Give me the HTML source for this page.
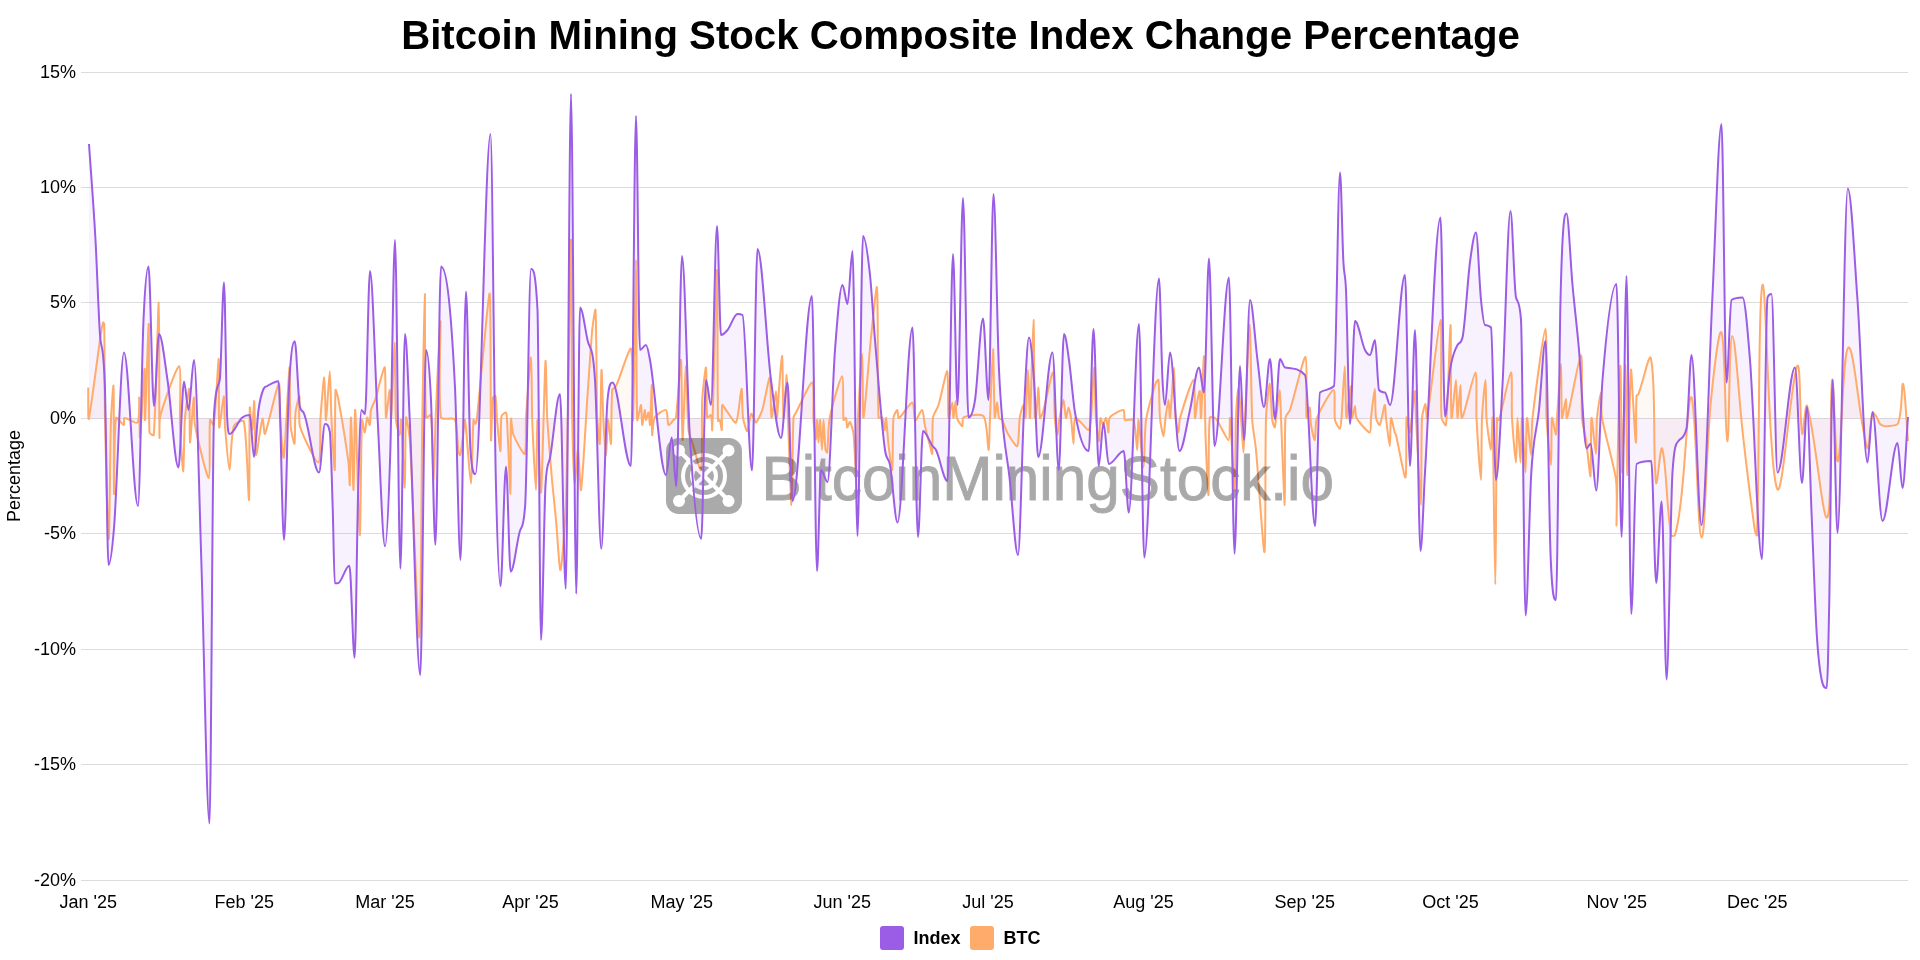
<!DOCTYPE html>
<html><head><meta charset="utf-8"><style>
html,body{margin:0;padding:0;background:#fff;width:1920px;height:960px;overflow:hidden}
svg{display:block;font-family:"Liberation Sans",sans-serif;will-change:transform}
</style></head><body>
<svg width="1920" height="960" viewBox="0 0 1920 960">
<rect width="1920" height="960" fill="#fff"/>
<text x="960.5" y="49.2" text-anchor="middle" font-size="40.2" font-weight="bold" fill="#000">Bitcoin Mining Stock Composite Index Change Percentage</text>
<g font-size="18" fill="#000"><line x1="81" x2="1908" y1="72.5" y2="72.5" stroke="#dcdcdc" stroke-width="1"/><text x="76" y="78.4" text-anchor="end">15%</text><line x1="81" x2="1908" y1="187.5" y2="187.5" stroke="#dcdcdc" stroke-width="1"/><text x="76" y="193.4" text-anchor="end">10%</text><line x1="81" x2="1908" y1="302.5" y2="302.5" stroke="#dcdcdc" stroke-width="1"/><text x="76" y="308.4" text-anchor="end">5%</text><line x1="81" x2="1908" y1="418.5" y2="418.5" stroke="#dcdcdc" stroke-width="1"/><text x="76" y="424.4" text-anchor="end">0%</text><line x1="81" x2="1908" y1="533.5" y2="533.5" stroke="#dcdcdc" stroke-width="1"/><text x="76" y="539.4" text-anchor="end">-5%</text><line x1="81" x2="1908" y1="649.5" y2="649.5" stroke="#dcdcdc" stroke-width="1"/><text x="76" y="655.4" text-anchor="end">-10%</text><line x1="81" x2="1908" y1="764.5" y2="764.5" stroke="#dcdcdc" stroke-width="1"/><text x="76" y="770.4" text-anchor="end">-15%</text><line x1="81" x2="1908" y1="880.5" y2="880.5" stroke="#dcdcdc" stroke-width="1"/><text x="76" y="886.4" text-anchor="end">-20%</text><text x="88.3" y="907.8" text-anchor="middle">Jan '25</text><text x="244.2" y="907.8" text-anchor="middle">Feb '25</text><text x="385" y="907.8" text-anchor="middle">Mar '25</text><text x="530.5" y="907.8" text-anchor="middle">Apr '25</text><text x="681.7" y="907.8" text-anchor="middle">May '25</text><text x="842.3" y="907.8" text-anchor="middle">Jun '25</text><text x="988.1" y="907.8" text-anchor="middle">Jul '25</text><text x="1143.6" y="907.8" text-anchor="middle">Aug '25</text><text x="1304.8" y="907.8" text-anchor="middle">Sep '25</text><text x="1450.5" y="907.8" text-anchor="middle">Oct '25</text><text x="1616.7" y="907.8" text-anchor="middle">Nov '25</text><text x="1757.3" y="907.8" text-anchor="middle">Dec '25</text></g>
<text transform="translate(20.3,476) rotate(-90)" text-anchor="middle" font-size="18" fill="#000">Percentage</text>
<path d="M88.2 387.5C88.4 395.3 87.9 422.1 88.8 418.8C90.9 410.2 97.1 359.7 100 340C100.7 335.6 102 326.2 103 322.5C103.1 322.1 104.2 323.3 104.2 323.8C104.7 347.1 104.5 394.1 105 417.5C105.6 447.9 108 538.7 108.8 539C109.5 539.3 110.1 449.7 111 420C111.3 411.5 113.3 381.6 113.5 386C114.1 400.1 113.6 489.3 114 494C114.3 497.3 113.9 433.2 116 418C116.3 415.9 122.5 425 123.8 425C124.6 425 123.3 418.2 124.5 418C126.8 417.6 136.2 424.3 137.5 422.5C139.9 419.2 139 396.1 139.2 397.5C139.6 399.8 139.5 440.1 140 437.5C140.8 433 143.8 371.3 144.5 368.8C145 366.9 144.6 423.9 145 420C145.7 412.7 148.2 322.3 148.8 323.8C149.3 325.4 148.3 405.9 149.5 432.5C149.6 433.7 153.7 436.2 153.8 435C156 403.7 158 302.2 158.8 302.5C159.5 302.8 159.1 413.4 159.5 437.5C159.6 441.5 159 420.4 160.5 415C163.9 402.6 177 365.1 179.2 366.2C181.8 367.6 179.4 410.3 180 425C180.4 436.6 182.7 472.1 183.2 471.2C183.9 470.2 184 430.9 185 417.5C185.5 410.3 188.8 386.6 189.2 388.8C190.1 392.8 189.4 441.3 190 442.5C190.5 443.5 193 400.2 193.8 397.5C194.2 395.8 193.7 418.3 195 425C197.5 438.4 206.9 478.6 208.8 478C210.7 477.4 208.9 432 210 420C210.1 418.7 213.6 426.3 213.8 425C215.7 411 218.1 358.4 218.8 358.8C219.4 359.1 218.4 421.1 219.2 427.5C219.6 430.5 223 396.4 223.8 396.2C224.5 396.1 224.4 418.8 225 426.2C225.9 437.2 228.4 470 229.5 470C230.6 470 230.9 436 233.8 426.2C234.5 423.8 243.3 419 243.8 421.2C247.1 437.4 248.3 501.6 249 500C249.8 498.1 249.1 421.6 249.8 407.5C249.9 404.1 251.8 430.7 252.2 430C252.9 429.1 253.9 399.1 254.2 401.2C254.9 405.3 254.8 452.4 256 455C256.8 456.8 260.9 422.5 262.5 418.8C263.2 417.2 264.1 435.7 265 433.8C268.1 427 276.5 386 278.8 383.8C280.3 382.2 279.4 410 280 418.8C280.7 428.5 283 461.4 283.8 457.5C285.4 448.6 288.5 372.5 289.5 367.5C290.2 364.3 289.6 410.7 290.5 425C290.8 429.8 294 444.9 294.5 443.8C295.3 441.8 294.7 420.2 295.5 412.5C295.9 408.4 299.1 395 299.5 396.2C300.2 398.5 298 419.2 300 426.2C302.7 435.8 316.1 463.5 318.5 462.5C321.2 461.4 319.7 428.7 320.5 417.5C321.2 407.5 323.6 377.2 324.2 377.5C325 377.8 325.4 420.7 326 420C326.7 419.2 329.1 371.2 329.8 371.2C330.4 371.2 330.9 407.8 331.5 420C332.1 432.5 334.4 472.9 334.8 470C335.4 465.4 334.7 405.5 335.5 390C335.6 388 338 397.4 338.5 400C341.3 415.6 346.4 446.8 348.5 462.5C349.2 468.1 349.6 487.8 349.8 485C350.2 476.6 350.5 416.9 351 417.5C351.5 418.1 353 490.9 353.5 490C354.1 489 354.6 405.6 355.2 410C356.2 416.9 358.9 533.7 359.8 535C360.6 536.2 360.9 443.1 362 420C362.1 417.4 364.2 432.8 364.8 432.5C365.5 432.2 366.4 418.7 367.2 417.5C367.7 416.9 369.4 425.6 369.8 425C370.4 423.8 370.2 413.6 371 410C371.7 406.8 375 400.7 376 397.5C377.2 393.8 378.7 386.2 379.8 382.5C380.9 378.7 384.4 365.4 384.8 367.5C385.9 374.1 385.2 413.9 386 417.5C386.4 419.5 389.1 389.7 389.8 390C390.4 390.3 390.7 423.3 391 420C391.9 411.4 394.1 342.5 394.8 342.5C395.4 342.5 395 400.7 396 420C396.2 423.8 399.1 435 399.8 435C400.4 435 400.8 417.6 401 420C402 430.7 404.1 487.8 404.8 487.5C405.4 487.2 405.1 426.5 406 417.5C406.3 414.6 409.4 434.3 409.8 440C412.8 489.3 417.9 639.7 419.4 637.3C421 634.7 421.5 474.3 422.3 420C422.8 388.5 424.3 294.3 424.8 294C425.2 293.7 424.5 388.6 426 417.5C426.1 418.8 430.9 413.8 431 415C432.7 429.4 432.9 480.6 433.5 480C434.1 479.4 435.2 427.5 436 410C437 387.8 439.9 320.3 440.5 321.2C441.1 322.2 437.9 396 441 417.5C441.4 420.6 453.5 416.9 454.8 419.5C457.8 425.7 457.2 444.4 458.5 452.5C458.6 453.2 460.1 455.5 460.2 455C461.1 452.4 462 443.8 462.5 440C463.2 435 464.5 417.4 465 420C466.6 428.3 469.9 483.8 471 483.8C472.1 483.8 472.4 434.1 473.5 420C473.6 419.1 475.1 424 475.5 423.8C476 423.5 476.8 419.5 477 418C478.8 401 481.8 367 483.5 350C484.9 336 489.2 287.7 489.8 294C491.1 310.2 490.4 420 491 440C491.2 445.8 491.9 407.8 493 397.5C493.1 396.8 495.4 395.7 495.5 396.2C496.4 401.3 496.5 414.1 497 420C497.7 427.8 500 451.7 500.5 451.2C501.1 450.8 500.3 424.5 501.5 416.2C501.7 414.9 505.4 412.1 506 412.5C506.8 413 506.9 418.1 507 420C508 438.4 510 493.9 510.5 493.8C511 493.6 510.4 430.8 511 418.8C511.1 416.1 512 431.2 513.5 435C515.5 440 523.6 455.4 524.8 453.8C526.7 451 525.4 426.5 526 417.5C527 402.5 530.2 357.2 531 357.5C531.8 357.8 531.7 404.4 532.2 420C532.9 437.5 535.3 490 536 490C536.7 490 536.9 419.7 537.5 420C538.1 420.3 540.3 497.7 541 492.5C542.3 483 544.4 374.4 545.5 361.2C546 355.6 546.5 403.5 547.2 417.5C548.1 433.1 550.7 464.4 552 480C552.9 490 555.1 510 556 520C557.2 532.5 559.4 571.9 560.5 570C561.9 567.4 565.5 519 566 502C568.1 436.5 570.1 252.2 571 240C571.6 231.7 571.6 375 572.2 420C572.5 435.6 573.8 477.6 574.8 482.5C575.2 485.1 577.3 449.2 578 450C578.9 451 580.3 493.8 581 490C582.6 481.3 585.7 422.5 587.2 400C588.5 382.5 590.6 347.5 592.2 330C592.7 325 595.3 306.5 595.5 310C596.6 328.4 596.4 390.6 597.2 417.5C597.5 424.1 599.5 446.9 599.8 443.8C600.5 435 601 373.1 601.5 370C601.9 367.8 602.8 409.4 603.5 422.5C603.9 430.6 605.5 455.3 606 455C606.6 454.7 607.3 421.7 608 420C608.5 418.9 610.7 446.1 611 443.8C611.7 438.6 611.1 403.1 612.2 390C612.4 388.7 615.5 387.4 616 386.2C620.1 377.1 629.5 345.7 631 348.8C633.7 354.1 632.6 426.8 633 420C633.9 404.6 635.5 260 636 260C636.5 260 636.1 386.9 637.2 420C637.4 423.2 640.5 404.5 641 405C641.7 405.7 641.7 424.3 642.2 425C642.7 425.5 644.2 410.8 644.8 410C645.1 409.5 645.5 419.6 646 420C646.4 420.3 648.1 412 648.5 412.5C649.1 413.3 649.8 426.6 650 425C650.6 419.8 651.5 383.9 651.8 385C652.1 386.4 651.7 429 652.2 435C652.4 437.1 652.8 421 654.8 417.5C656.2 414.8 664.4 409.1 666 410C667.8 411 667.2 423.3 668.5 425C669.1 425.8 672.2 421.2 673.5 420C674.1 419.4 675.9 418.4 676 417.5C677.8 403.4 680.3 357.6 681 360C681.9 363.3 681.8 439.2 682.5 440C683.1 440.7 685.2 367.6 686 366.2C686.7 365.1 687.2 414.2 688.5 430C688.8 433.2 691.3 439.4 692.2 442.5C694.4 449.4 700.3 473.1 701 470C702.8 462.5 701.4 417.5 702.2 400C702.6 391.8 705.5 365.8 706 367.5C706.8 370.1 706.1 406.6 707.2 417.5C707.4 418.5 710.7 414.3 711 415C712 417.4 712.1 433.1 712.2 430C713.6 396.9 716.3 271.2 717 270C717.7 268.9 717.3 384 718 421C718 421.5 719.6 419.6 719.8 420C720.5 421.9 721.6 431.1 721.8 430C722.2 427.3 721.4 409 722.2 405C722.5 404 725 408.8 726 410C728.5 413.1 734.8 424.2 736 422.5C738.6 418.9 740.5 389.4 741.5 388.8C742.3 388.2 742 410.4 743 417.5C743.5 421 746.4 431.7 747.2 431.2C748.4 430.7 749.8 416.5 751 413.8C751.3 413.1 752.9 416.5 753.5 417.5C754.2 418.7 755.4 423 756 422.5C757.6 421.2 761.2 413.3 762.2 410C764.7 402.1 768.7 376.6 769.8 377.5C771 378.5 770.6 415.4 771.5 417.5C772.1 418.9 775.3 391.2 776 391.2C776.7 391.2 776.6 418.8 777 417.5C777.6 415.6 778.9 388.4 779.8 378.8C780.2 373.1 782 353.6 782.2 356.2C782.9 363.3 782.8 414.7 783.5 417.5C784 419.4 786.2 374.9 786.8 375C787.3 375.1 787.6 407.3 788 418C788.8 439.8 790.8 505.1 791.5 505C792.2 504.9 792.4 439.2 793.5 417.5C793.6 416.1 795.3 413.7 796 412.5C800 405 810.2 381.6 812.2 382.5C814.5 383.5 812.9 410.6 813.5 420C813.8 425 815.6 440 816 440C816.4 440 816.7 419.7 817 420C817.3 420.3 818.1 442.5 818.5 442.5C818.9 442.5 819.6 419.2 820 420C820.5 421.1 821.6 450 822 450C822.4 450 823.1 420 823.5 420C823.9 420 824.6 442.6 825.5 450C825.6 450.7 827.2 453.2 827.2 452.5C828.2 445 828.1 426.1 829.8 417.5C831.8 407 840.5 375.9 842.2 376.2C844 376.6 842.6 410.3 843.5 420C843.6 420.7 845.8 417.5 846 418C846.7 419.4 846.6 426.9 847.2 427.5C847.6 427.9 849.5 421.5 850 422C851 423 853.1 430.7 853.5 433.8C854.6 443.3 855.5 474.2 856 472.5C856.7 470.1 857.3 431.2 858 417.5C858.8 401.6 861.6 353.8 862.2 353.8C862.9 353.8 862.5 419.3 863.5 417.5C864.7 415.2 868.9 357.5 871 337.5C872.3 325 876.5 281.9 877 287.5C878.4 301.9 877.2 385.9 878.5 417.5C878.5 418.4 881.9 416.8 882.2 417.5C883.4 419.9 884 429.9 884.5 430C885 430.1 885.7 416.8 886 418C886.7 420.6 887.7 438.3 888.5 445C889.3 451.3 891.8 472.2 892.2 470C893.1 465.4 892.4 430.4 893.5 417.5C893.7 415.4 896.6 409.9 897.2 410C897.9 410.1 897.9 418.5 899 418C901.7 416.7 910.1 402.2 912.2 402.5C914.1 402.7 913.9 415.9 914.8 420C914.8 420.3 915.8 420.2 916 420C917.7 417.7 921.3 409.5 922.2 410C923.5 410.7 924 421.3 924.8 425C925.8 430 928.4 440 929.8 445C930.3 447.2 932.1 455.1 932.2 453.8C932.9 448.3 931.9 426.4 933 417.5C933.4 414.2 937.5 408.3 938.5 405C941.1 396.7 946.2 369.9 947.2 371.2C948.7 373 947.6 411.6 948.5 417.5C948.8 419.5 951.6 402.4 952.2 402.5C952.9 402.6 953.1 418.1 953.5 418C953.9 417.8 955.1 401.2 955.5 401.2C955.9 401.2 955.9 414 957 418C957.6 420.3 961.4 426.3 962.2 426.2C963 426.2 961.9 418.3 963.5 417.5C967.2 415.8 981.2 413.2 983.5 416.2C987.4 421.4 987.7 449.8 988.5 450C989.3 450.2 989.6 426 990 418C990.8 400.7 992.4 348.8 993 348.8C993.6 348.7 993.9 406.5 994.8 417.5C994.9 419.9 996.7 402.4 997.2 402.5C997.8 402.6 998 414.5 999 418C999.2 418.9 1001.8 419.2 1002.2 420C1003.9 422.8 1005.6 429.6 1007.2 432.5C1009.3 436.2 1016.1 447.6 1017.2 446.2C1019.2 443.9 1018.7 424.6 1019.8 417.5C1020.2 414.3 1022.8 404.9 1023.5 405C1024.2 405.1 1025.3 419.9 1025.5 418C1026.4 411.1 1027.4 370 1028 370C1028.6 370 1029.5 422.1 1030 418C1030.9 409.6 1032.9 320.1 1033.5 320C1034.1 319.9 1034.1 393.4 1034.8 417.5C1034.8 417.8 1036 417.8 1036 417.5C1036.9 410.3 1038 387.4 1038.5 387.5C1039 387.6 1039.1 413 1040 418C1040.2 419.1 1042.5 413.6 1043 412C1045.8 402.2 1051.6 371.8 1053 372.5C1054.5 373.2 1054 406.3 1054.8 417.5C1055 421.9 1056.6 434.9 1057.2 435C1057.8 435.1 1058.7 422.2 1059.5 418C1060.3 413.5 1062.7 400 1063.5 400C1064.3 400 1065.2 416.8 1066 418C1066.5 418.7 1067.9 407.5 1068.5 407.5C1069.1 407.5 1070.6 415.3 1071 418C1071.9 424.4 1073 443.8 1073.5 443.8C1074 443.8 1073.5 422.1 1075 418C1075.4 416.8 1079.6 421.3 1081 422.5C1083 424.3 1087.3 430.5 1088.5 430C1089.8 429.4 1090.7 421 1091 418C1092.1 405.4 1093.4 367.6 1094 367.5C1094.6 367.4 1095.2 405 1096 417.5C1096.4 423.5 1098.4 441.2 1099 441.2C1099.6 441.3 1099.7 421.1 1100.5 418C1100.7 417 1102.3 425 1103 425C1103.7 425 1105.5 417.4 1106 418C1106.9 419.2 1108 432.6 1108.5 432.5C1109 432.4 1107.9 420.3 1109.8 417.5C1111.7 414.6 1121.2 409.6 1123.5 410C1125 410.2 1123.6 418.6 1125 420C1126.1 421.1 1132.8 418.4 1133.5 420C1135.9 425.9 1136.6 450 1137.2 450C1137.9 450 1137.9 418.3 1138.5 420C1139.5 422.7 1142.6 467.5 1143.5 467.5C1144.4 467.5 1144.5 431.7 1146 420C1147 412.4 1151.5 397.5 1153.5 390C1154 388.1 1155.1 384.2 1156 382.5C1156.4 381.7 1158.4 379.2 1158.5 380C1159.4 388.1 1159.2 408.6 1160 418C1160.4 422.6 1162.8 436.2 1163.5 436.2C1164.2 436.2 1164.9 422.5 1165.5 418C1166.1 413.5 1167.9 400 1168.5 400C1169.1 400 1169.6 420.1 1170 418C1171 412 1173.3 367.5 1174 367.5C1174.7 367.5 1174.6 405.4 1175.5 418C1175.8 421.7 1177.9 432.5 1178.5 432.5C1179.1 432.5 1179 421.5 1180 418C1182.8 408.4 1191.6 380 1193.5 380C1195.3 380 1194.3 414.6 1195 418C1195.3 419.6 1196.7 404.5 1197.5 400C1197.9 397.8 1199.5 390.1 1199.8 391.2C1200.4 394.6 1200.7 420.6 1201 418C1201.7 411.9 1203.5 354.4 1204 356.2C1204.6 358.6 1204.9 415.3 1205.5 435C1206 450 1208 496.9 1208.5 495C1209.1 492.5 1208 435.1 1209.8 417.5C1209.9 416.1 1215 417.6 1216 418.8C1219.7 423.2 1226.7 440.1 1228.5 440C1230.2 439.9 1229.6 415.1 1230 418C1231.2 427.6 1234 490 1234.8 490C1235.5 490 1235.3 436 1236 418C1236.3 410.4 1237.9 387.5 1238.5 387.5C1239.1 387.5 1240.4 410.4 1241 418C1241.7 426.6 1243 452.5 1243.5 452.5C1244 452.5 1244.6 426.6 1245 418C1246.1 394.7 1248.9 324.8 1249.8 325C1250.7 325.3 1251.1 396.3 1252.2 420C1252.6 427.5 1255.3 442.5 1256 450C1258.4 475.5 1263.4 555.5 1264.5 552C1265.9 547.4 1265 451.1 1266 417.5C1266.3 409 1269 383.4 1269.8 383.8C1270.6 384.1 1271.2 411 1272.2 420C1272.5 422 1274.3 427.7 1274.8 427.5C1275.3 427.2 1275.7 420.4 1276 418C1276.9 411 1279.1 390 1279.8 390C1280.4 390 1280.7 411 1281 418C1281.9 439.7 1284.2 505.1 1284.8 505C1285.3 504.9 1284.3 439.1 1285.5 417.5C1285.6 415.3 1289.3 412.1 1290 410C1294.3 396.9 1303.5 356.1 1305.5 357C1307.7 358 1305.6 406.7 1306.5 417.5C1306.7 419.4 1309.3 406.8 1309.8 407.5C1310.5 408.7 1310.3 420.7 1311 425C1311.6 428.8 1314.1 440.7 1314.8 440C1315.6 439 1315.1 423.1 1317 418C1319.8 410.6 1331.2 389.7 1333.5 390C1335.7 390.2 1333.8 412.7 1335 420C1335.4 422.4 1339 429 1339.8 428.8C1340.6 428.5 1341.3 420.7 1341.5 418C1342.5 405.1 1344.1 366.2 1344.8 366.2C1345.4 366.2 1345.6 414.9 1346.5 418C1347 419.9 1349.8 386.2 1350.5 386.2C1351.2 386.2 1351.2 414.4 1352 418C1352.3 419.4 1354.4 406 1355 406C1355.6 406 1355.1 415.5 1356.5 418C1358.8 422.1 1367.7 432.5 1369.8 432.5C1371.3 432.5 1370.6 421.6 1371 418C1371.8 410.7 1374.1 388.8 1374.8 388.8C1375.4 388.8 1375 410.9 1376 418C1376.3 419.9 1379.1 425.9 1379.8 425C1381.3 422.7 1383.8 406.1 1384.8 405C1385.4 404.3 1385.6 414.8 1386 418C1386.9 425.1 1389.1 446.2 1389.8 446.2C1390.4 446.2 1390.2 420.2 1391 418C1391.4 416.8 1393.7 428.9 1394.8 432.5C1394.9 433.2 1395.8 434.3 1396 435C1398.5 445.6 1404.4 479.3 1405.5 477.5C1407 475 1405.7 426.5 1406.5 417.5C1406.7 415.2 1409.2 434.3 1409.8 432.5C1411.3 427.7 1413.8 393.5 1414.8 391.2C1415.4 389.8 1415.6 411.3 1416 418C1417.2 439.8 1420.2 505 1421 505C1421.7 505 1421 439.7 1422 418C1422.2 414.3 1424.9 403.8 1425.5 403.8C1426.1 403.8 1426.5 420.6 1427 418C1430.3 399.7 1438.7 320.1 1440.5 320C1442.3 319.9 1440.2 393.4 1441.5 417.5C1441.6 419.7 1445.8 426.9 1446 425C1448.1 403.7 1449.8 325.9 1450.5 325C1451.2 324.2 1450.5 408.3 1451.5 418C1451.9 422 1455.2 380 1456 380C1456.7 380 1456.9 417.3 1457.5 418C1458 418.6 1459.9 385 1460.5 385C1461.1 385 1460.5 419.3 1462 418C1464.2 416.2 1473.6 372.5 1475.5 372.5C1477.3 372.5 1475.9 406.6 1476.5 418C1477.3 433.5 1480.3 480 1481 480C1481.7 480 1481.3 433.5 1482 418C1482.4 408.5 1484.9 380 1485.5 380C1486.1 380 1485.8 408.5 1486.5 418C1487.1 426 1490.2 450 1491 450C1491.7 450 1492.3 412.6 1492.5 418C1493.4 446.2 1494.7 584.4 1495.3 584.4C1495.9 584.4 1496.1 458.4 1497 418C1497 417.3 1498.8 420.6 1499 420C1502.3 409.2 1509.3 372.8 1511 372.5C1512.6 372.3 1511.4 406.6 1512 418C1512.6 429.1 1515.3 462.5 1516 462.5C1516.7 462.5 1516.9 418 1517.5 418C1518.1 418 1519.9 462.5 1520.5 462.5C1521.1 462.5 1521.4 416.9 1522 418C1522.7 419.4 1524.9 472.5 1525.5 472.5C1526.1 472.5 1526.2 420.6 1527 418C1527.6 416.2 1530.3 455 1531 455C1531.7 455 1531.4 427.2 1532.5 418C1535.1 395.6 1543.7 328.8 1545.5 328.8C1547.2 328.8 1545.6 395.7 1546.5 418C1547 429.8 1550.3 465 1551 465C1551.7 465 1551.1 423.5 1552 418C1552.3 416 1555.4 435 1556 435C1556.6 435 1556.7 422.2 1557 418C1558 404.4 1560.4 363.8 1561 363.8C1561.6 363.8 1561.1 411.6 1562 418C1562.3 420.3 1565.4 398.8 1566 398.8C1566.6 398.8 1566.1 420.5 1567 418C1569.9 409.6 1579.1 355 1581 355C1582.9 355 1581.1 402.3 1582 418C1582.3 423.6 1585.2 434.5 1586 440C1587.3 449 1590 478.4 1590.5 476.2C1591.3 472.9 1590.7 421.5 1591.5 418C1592 415.9 1595.3 453.8 1596 453.8C1596.7 453.8 1596.3 426.9 1597 418C1597.5 411.6 1600.4 392.5 1601 392.5C1601.6 392.5 1600.9 411.7 1602 418C1604.7 433.6 1613.9 464.3 1616 480C1617.5 491.1 1616.3 529.6 1616.5 525C1616.9 514.1 1617.8 444.7 1618.5 418C1618.8 405.1 1620.2 361.8 1620.5 366.2C1621.1 375.4 1621.6 472.7 1622.2 472.5C1622.9 472.3 1624.9 364.7 1625.5 365C1626.1 365.3 1626.5 474.4 1627.2 475C1627.9 475.6 1629.9 384.6 1631 370C1631.3 365.8 1632.5 392.5 1633 400C1633.7 410.6 1635.3 443.2 1636 442.5C1636.7 441.7 1635.6 414.5 1636.5 396.2C1636.6 395 1638 394.9 1638.5 393.8C1643.8 379.9 1649.4 350.6 1651 358.8C1656.4 386.1 1652.5 454.3 1656 482.5C1657 490.3 1660.5 442.8 1662.2 448.8C1666.5 463.8 1666.1 502 1671 535C1671.2 536.5 1674.6 536.4 1675 535C1678.6 522.4 1679.3 514.1 1681 500C1685.9 459.1 1688 391.2 1691.5 397.5C1696.2 406.2 1697.6 537 1701.5 537.5C1705.4 538 1705.7 454.8 1711 400C1713.7 372.8 1719 326.1 1721.5 332.5C1725.5 342.6 1725.1 440.5 1727.2 441.2C1729.4 442 1729 336.5 1732.2 336.2C1735.5 336 1738.7 398.5 1743.5 440C1747.7 476 1749.7 494.2 1754.8 530C1755.1 532.2 1756.9 537.1 1757 535C1760 439.1 1758 295.2 1762.5 285C1766.1 276.7 1768.6 468.5 1777.2 488.8C1782.5 501 1790.8 380.5 1797.2 366.2C1800.8 358.5 1799.4 422.4 1802.2 433.8C1803.4 438.4 1805.3 399.6 1807.2 406.2C1815.3 433.1 1822.7 522.2 1827.2 517.5C1832.7 511.7 1829.5 394.1 1832.2 380C1833.8 371.6 1835.3 466.7 1838 461.2C1841.8 453.7 1842.3 350.4 1848.5 347.5C1854 344.9 1860.1 428 1867.2 447.5C1869.7 454.2 1869.4 424.1 1872.5 413C1872.9 411.5 1875 414.5 1876 416C1878 418.9 1877.9 421.3 1880 424C1881.1 425.3 1882.3 425.6 1884 426C1885.9 426.4 1887.1 426.4 1889 426C1892.8 425.2 1897.2 426.3 1898.3 423C1902.8 409.5 1901.4 381.1 1903 384C1905.3 388.3 1906 418.2 1908 441L1908.0 418.5L88.2 418.5Z" fill="#ffab6b" fill-opacity="0.07" stroke="none"/>
<path d="M89 144C91.17 176 93.33 201.13 95.5 240C97 266.91 98.5 314.17 100 335C101 348.89 102 342.92 103 355C103.67 363.06 104.33 367.5 105 390C106.17 429.38 107.33 565 108.5 565C110.33 565 112.17 550.25 114 528C117.33 487.54 120.67 352.5 124 352.5C128.67 352.5 133.33 506 138 506C139.83 506 141.67 360.81 143.5 320C145.17 282.9 146.83 266.5 148.5 266.5C150.33 266.5 152.17 406 154 406C155.67 406 157.33 334 159 334C161.83 334 164.67 361.06 167.5 380C171.17 404.5 174.83 467.5 178.5 467.5C180.33 467.5 182.17 381.5 184 381.5C185.5 381.5 187 410 188.5 410C190.33 410 192.17 360 194 360C196.43 360 198.87 487.57 201.3 560C204.03 641.36 206.77 823.5 209.5 823.5C211 823.5 212.5 441.24 214 415C215.92 381.47 217.83 390.05 219.75 380C221.17 372.57 222.58 282.5 224 282.5C225.08 282.5 226.17 401.8 227.25 420C228.08 434 228.92 434 229.75 434C233.92 434 238.08 420.94 242.25 417.5C244.75 415.43 247.25 415 249.75 415C251.17 415 252.58 457 254 457C255.5 457 257 420.98 258.5 410C260.17 397.8 261.83 392.89 263.5 389C264.75 386.09 266 386.71 267.25 386C271 383.86 274.75 381.25 278.5 381.25C280.33 381.25 282.17 540 284 540C285.67 540 287.33 419.62 289 387.5C290.92 350.56 292.83 341.25 294.75 341.25C296.42 341.25 298.08 398.45 299.75 406.25C301 412.1 302.25 410.29 303.5 412.5C308.67 421.63 313.83 472.5 319 472.5C321 472.5 323 424 325 424C326.6 424 328.2 424 329.8 431.7C330.77 436.35 331.73 477.42 332.7 507.5C333.4 529.28 334.1 583.3 334.8 583.3C335.77 583.3 336.73 583.3 337.7 583.3C341.6 583.3 345.5 565.8 349.4 565.8C351.13 565.8 352.87 657.7 354.6 657.7C355.77 657.7 356.93 534.59 358.1 492.9C359.23 452.4 360.37 410 361.5 410C362.67 410 363.83 414 365 414C366.67 414 368.33 271 370 271C372.57 271 375.13 372.96 377.7 420C380.13 464.59 382.57 546.3 385 546.3C386.73 546.3 388.47 509.04 390.2 455C391.8 405.12 393.4 240 395 240C396.8 240 398.6 568.75 400.4 568.75C401.93 568.75 403.47 334 405 334C406.58 334 408.17 386.43 409.75 420C413.25 494.22 416.75 675.2 420.25 675.2C422.17 675.2 424.08 350 426 350C427.67 350 429.33 364.24 431 400C432.47 431.47 433.93 544.8 435.4 544.8C437.27 544.8 439.13 266.5 441 266.5C445.67 266.5 450.33 294.15 455 387.5C456.83 424.17 458.67 560 460.5 560C462.33 560 464.17 291.5 466 291.5C467.47 291.5 468.93 427 470.4 449C472.07 474 473.73 474 475.4 474C480.43 474 485.47 134 490.5 134C492.27 134 494.03 400.63 495.8 478.3C497.37 547.18 498.93 586.25 500.5 586.25C502.33 586.25 504.17 466.7 506 466.7C507.57 466.7 509.13 571.7 510.7 571.7C513.8 571.7 516.9 540.28 520 530.8C521.73 525.5 523.47 530.26 525.2 504.6C527.13 475.98 529.07 269 531 269C533.17 269 535.33 269 537.5 310C538.67 332.08 539.83 640 541 640C542.5 640 544 510.81 545.5 485C547 459.19 548.5 465.91 550 458C553.33 440.41 556.67 394 560 394C561.92 394 563.83 588.75 565.75 588.75C567.5 588.75 569.25 94 571 94C572.75 94 574.5 593.75 576.25 593.75C577.5 593.75 578.75 307.5 580 307.5C582.5 307.5 585 328.54 587.5 340C590 351.46 592.5 341.68 595 380C597.08 411.94 599.17 548.75 601.25 548.75C603.33 548.75 605.42 421.88 607.5 400C609.17 382.5 610.83 382.5 612.5 382.5C618.67 382.5 624.83 466 631 466C632.67 466 634.33 116 636 116C637.33 116 638.67 350 640 350C642 350 644 345 646 345C647.33 345 648.67 352.71 650 360C655.33 389.17 660.67 475 666 475C667.92 475 669.83 437.5 671.75 437.5C673.25 437.5 674.75 486.25 676.25 486.25C678.17 486.25 680.08 256 682 256C684.67 256 687.33 397.63 690 440C693.75 499.58 697.5 538.75 701.25 538.75C702.83 538.75 704.42 380 706 380C707.67 380 709.33 405 711 405C713 405 715 226 717 226C718.33 226 719.67 335 721 335C723.17 335 725.33 332.57 727.5 330C730.83 326.05 734.17 314 737.5 314C739.17 314 740.83 314 742.5 315C745.67 316.9 748.83 470.5 752 470.5C753.83 470.5 755.67 249 757.5 249C762 249 766.5 345.12 771 380C774.33 405.84 777.67 438 781 438C783.17 438 785.33 382.5 787.5 382.5C789.17 382.5 790.83 501 792.5 501C799 501 805.5 296 812 296C813.67 296 815.33 571 817 571C818.33 571 819.67 470 821 470C823.17 470 825.33 482 827.5 482C830 482 832.5 382.83 835 350C837.5 317.17 840 285 842.5 285C844.17 285 845.83 304 847.5 304C849.17 304 850.83 251 852.5 251C854.17 251 855.83 536 857.5 536C859.33 536 861.17 236 863 236C865.33 236 867.67 253.33 870 275C871.67 290.48 873.33 320 875 340C878.33 380 881.67 426.67 885 450C886.67 461.67 888.33 456.11 890 465C892.5 478.33 895 522.5 897.5 522.5C902.5 522.5 907.5 327.5 912.5 327.5C914.33 327.5 916.17 537 918 537C919.67 537 921.33 431 923 431C926.17 431 929.33 441.69 932.5 446C933.67 447.59 934.83 447.76 936 450C939.83 457.36 943.67 481 947.5 481C949.33 481 951.17 254 953 254C954.5 254 956 405 957.5 405C959.33 405 961.17 198 963 198C964.83 198 966.67 417.5 968.5 417.5C970.67 417.5 972.83 413.95 975 400C977.67 382.83 980.33 318.5 983 318.5C984.83 318.5 986.67 400 988.5 400C990.17 400 991.83 194 993.5 194C995.33 194 997.17 331.33 999 370C1002.67 447.33 1006.33 446.6 1010 482C1012.67 507.74 1015.33 555 1018 555C1020 555 1022 448.67 1024 410C1025.67 377.78 1027.33 337.5 1029 337.5C1030.67 337.5 1032.33 357.82 1034 380C1035.42 398.85 1036.83 457 1038.25 457C1043 457 1047.75 352.5 1052.5 352.5C1054.58 352.5 1056.67 470 1058.75 470C1060.5 470 1062.25 334 1064 334C1065.67 334 1067.33 348.38 1069 360C1071 373.95 1073 400.95 1075 412.5C1079.58 438.97 1084.17 451 1088.75 451C1090.33 451 1091.92 329 1093.5 329C1095.25 329 1097 466 1098.75 466C1100.33 466 1101.92 423 1103.5 423C1105.25 423 1107 464 1108.75 464C1113.75 464 1118.75 451 1123.75 451C1125.42 451 1127.08 512.5 1128.75 512.5C1132.17 512.5 1135.58 324 1139 324C1140.75 324 1142.5 557.5 1144.25 557.5C1149.17 557.5 1154.08 278.5 1159 278.5C1160.17 278.5 1161.33 357.25 1162.5 380C1163.33 396.25 1164.17 405 1165 405C1166.67 405 1168.33 352.5 1170 352.5C1173.17 352.5 1176.33 451 1179.5 451C1183 451 1186.5 425.1 1190 410C1193 397.06 1196 367.5 1199 367.5C1200.67 367.5 1202.33 392.5 1204 392.5C1205.67 392.5 1207.33 258.5 1209 258.5C1210.83 258.5 1212.67 446 1214.5 446C1219.33 446 1224.17 277.5 1229 277.5C1230.83 277.5 1232.67 553.75 1234.5 553.75C1236.33 553.75 1238.17 366 1240 366C1241.33 366 1242.67 440 1244 440C1246 440 1248 300 1250 300C1252.5 300 1255 340.96 1257.5 360C1259.67 376.5 1261.83 407 1264 407C1266 407 1268 359 1270 359C1271.67 359 1273.33 419 1275 419C1276.67 419 1278.33 359 1280 359C1281.67 359 1283.33 367.25 1285 367.5C1291.67 368.5 1298.33 367.57 1305 375C1308.33 378.72 1311.67 526 1315 526C1316.67 526 1318.33 393.9 1320 392.5C1324.67 388.59 1329.33 391.19 1334 386C1336 383.78 1338 172.5 1340 172.5C1341.13 172.5 1342.27 240.98 1343.4 262C1344.27 278.07 1345.13 270.82 1346 290C1347.33 319.51 1348.67 424 1350 424C1351.67 424 1353.33 321 1355 321C1358.33 321 1361.67 343.5 1365 350C1366.67 353.25 1368.33 355 1370 355C1371.67 355 1373.33 340 1375 340C1376.33 340 1377.67 388.37 1379 390C1381 392.44 1383 391.95 1385 392.5C1386.67 392.96 1388.33 405 1390 405C1395 405 1400 275 1405 275C1406.67 275 1408.33 466 1410 466C1411.67 466 1413.33 330 1415 330C1416.83 330 1418.67 551 1420.5 551C1422 551 1423.5 497.92 1425 472.5C1430.17 384.94 1435.33 217.5 1440.5 217.5C1442 217.5 1443.5 416.5 1445 416.5C1446.67 416.5 1448.33 380.53 1450 370C1452.5 354.21 1455 349.34 1457.5 345C1459.17 342.11 1460.83 344.42 1462.5 337.5C1465 327.12 1467.5 280.73 1470 262C1472 247.02 1474 232.5 1476 232.5C1477.67 232.5 1479.33 283.54 1481 300C1482.33 313.17 1483.67 324.65 1485 325C1487 325.53 1489 325.06 1491 327.5C1492.67 329.54 1494.33 480 1496 480C1498.17 480 1500.33 424.4 1502.5 385C1505.17 336.51 1507.83 211 1510.5 211C1512.33 211 1514.17 290.52 1516 297.5C1517.67 303.85 1519.33 298.41 1521 320C1522.53 339.86 1524.07 615.6 1525.6 615.6C1527.48 615.6 1529.37 504.8 1531.25 473.4C1533.83 430.32 1536.42 434.28 1539 410C1541.17 389.64 1543.33 341 1545.5 341C1547.2 341 1548.9 514.44 1550.6 556C1552.4 600 1554.2 600 1556 600C1557.5 600 1559 360.81 1560.5 300C1562.5 218.92 1564.5 213.5 1566.5 213.5C1568.5 213.5 1570.5 263.08 1572.5 285C1574.67 308.74 1576.83 325.14 1579 350C1581.53 379.07 1584.07 448.4 1586.6 448.4C1587.93 448.4 1589.27 443.75 1590.6 443.75C1592.48 443.75 1594.37 490.6 1596.25 490.6C1598.33 490.6 1600.42 405.58 1602.5 380C1607.17 322.71 1611.83 284 1616.5 284C1618.2 284 1619.9 537 1621.6 537C1623.23 537 1624.87 276 1626.5 276C1628.08 276 1629.67 614 1631.25 614C1633.03 614 1634.82 465.1 1636.6 464C1641.48 461 1646.37 461 1651.25 461C1652.92 461 1654.58 583 1656.25 583C1658.03 583 1659.82 501.6 1661.6 501.6C1663.27 501.6 1664.93 679.5 1666.6 679.5C1668.57 679.5 1670.53 501.25 1672.5 472C1674.58 441.02 1676.67 443.46 1678.75 440.6C1681.37 437.01 1683.98 440.08 1686.6 428C1688.23 420.46 1689.87 355 1691.5 355C1694.83 355 1698.17 525 1701.5 525C1705.17 525 1708.83 368.17 1712.5 295C1715.5 235.14 1718.5 124 1721.5 124C1723.17 124 1724.83 382.5 1726.5 382.5C1728.17 382.5 1729.83 301.14 1731.5 300C1735.17 297.5 1738.83 297.5 1742.5 297.5C1745 297.5 1747.5 328.85 1750 360C1754 409.83 1758 559 1762 559C1763.83 559 1765.67 302.31 1767.5 297.5C1768.83 294 1770.17 294 1771.5 294C1773.5 294 1775.5 472.5 1777.5 472.5C1783.33 472.5 1789.17 367.5 1795 367.5C1797.33 367.5 1799.67 483 1802 483C1803.67 483 1805.33 407 1807 407C1808.57 407 1810.13 480.15 1811.7 516.7C1813.37 555.58 1815.03 606.08 1816.7 633.3C1818.37 660.52 1820.03 672 1821.7 680C1823.37 688 1825.03 688 1826.7 688C1827.57 688 1828.43 644.46 1829.3 600C1830.37 545.28 1831.43 380 1832.5 380C1834.17 380 1835.83 533 1837.5 533C1840.93 533 1844.37 188.5 1847.8 188.5C1851.03 188.5 1854.27 255.15 1857.5 300C1860.83 346.24 1864.17 462.5 1867.5 462.5C1869.17 462.5 1870.83 412 1872.5 412C1875.83 412 1879.17 521 1882.5 521C1887.5 521 1892.5 443 1897.5 443C1899.17 443 1900.83 488 1902.5 488C1904.33 488 1906.17 440.67 1908 417L1908.0 418.5L89.0 418.5Z" fill="#9b5de5" fill-opacity="0.08" stroke="none"/>
<path d="M88.2 387.5C88.4 395.3 87.9 422.1 88.8 418.8C90.9 410.2 97.1 359.7 100 340C100.7 335.6 102 326.2 103 322.5C103.1 322.1 104.2 323.3 104.2 323.8C104.7 347.1 104.5 394.1 105 417.5C105.6 447.9 108 538.7 108.8 539C109.5 539.3 110.1 449.7 111 420C111.3 411.5 113.3 381.6 113.5 386C114.1 400.1 113.6 489.3 114 494C114.3 497.3 113.9 433.2 116 418C116.3 415.9 122.5 425 123.8 425C124.6 425 123.3 418.2 124.5 418C126.8 417.6 136.2 424.3 137.5 422.5C139.9 419.2 139 396.1 139.2 397.5C139.6 399.8 139.5 440.1 140 437.5C140.8 433 143.8 371.3 144.5 368.8C145 366.9 144.6 423.9 145 420C145.7 412.7 148.2 322.3 148.8 323.8C149.3 325.4 148.3 405.9 149.5 432.5C149.6 433.7 153.7 436.2 153.8 435C156 403.7 158 302.2 158.8 302.5C159.5 302.8 159.1 413.4 159.5 437.5C159.6 441.5 159 420.4 160.5 415C163.9 402.6 177 365.1 179.2 366.2C181.8 367.6 179.4 410.3 180 425C180.4 436.6 182.7 472.1 183.2 471.2C183.9 470.2 184 430.9 185 417.5C185.5 410.3 188.8 386.6 189.2 388.8C190.1 392.8 189.4 441.3 190 442.5C190.5 443.5 193 400.2 193.8 397.5C194.2 395.8 193.7 418.3 195 425C197.5 438.4 206.9 478.6 208.8 478C210.7 477.4 208.9 432 210 420C210.1 418.7 213.6 426.3 213.8 425C215.7 411 218.1 358.4 218.8 358.8C219.4 359.1 218.4 421.1 219.2 427.5C219.6 430.5 223 396.4 223.8 396.2C224.5 396.1 224.4 418.8 225 426.2C225.9 437.2 228.4 470 229.5 470C230.6 470 230.9 436 233.8 426.2C234.5 423.8 243.3 419 243.8 421.2C247.1 437.4 248.3 501.6 249 500C249.8 498.1 249.1 421.6 249.8 407.5C249.9 404.1 251.8 430.7 252.2 430C252.9 429.1 253.9 399.1 254.2 401.2C254.9 405.3 254.8 452.4 256 455C256.8 456.8 260.9 422.5 262.5 418.8C263.2 417.2 264.1 435.7 265 433.8C268.1 427 276.5 386 278.8 383.8C280.3 382.2 279.4 410 280 418.8C280.7 428.5 283 461.4 283.8 457.5C285.4 448.6 288.5 372.5 289.5 367.5C290.2 364.3 289.6 410.7 290.5 425C290.8 429.8 294 444.9 294.5 443.8C295.3 441.8 294.7 420.2 295.5 412.5C295.9 408.4 299.1 395 299.5 396.2C300.2 398.5 298 419.2 300 426.2C302.7 435.8 316.1 463.5 318.5 462.5C321.2 461.4 319.7 428.7 320.5 417.5C321.2 407.5 323.6 377.2 324.2 377.5C325 377.8 325.4 420.7 326 420C326.7 419.2 329.1 371.2 329.8 371.2C330.4 371.2 330.9 407.8 331.5 420C332.1 432.5 334.4 472.9 334.8 470C335.4 465.4 334.7 405.5 335.5 390C335.6 388 338 397.4 338.5 400C341.3 415.6 346.4 446.8 348.5 462.5C349.2 468.1 349.6 487.8 349.8 485C350.2 476.6 350.5 416.9 351 417.5C351.5 418.1 353 490.9 353.5 490C354.1 489 354.6 405.6 355.2 410C356.2 416.9 358.9 533.7 359.8 535C360.6 536.2 360.9 443.1 362 420C362.1 417.4 364.2 432.8 364.8 432.5C365.5 432.2 366.4 418.7 367.2 417.5C367.7 416.9 369.4 425.6 369.8 425C370.4 423.8 370.2 413.6 371 410C371.7 406.8 375 400.7 376 397.5C377.2 393.8 378.7 386.2 379.8 382.5C380.9 378.7 384.4 365.4 384.8 367.5C385.9 374.1 385.2 413.9 386 417.5C386.4 419.5 389.1 389.7 389.8 390C390.4 390.3 390.7 423.3 391 420C391.9 411.4 394.1 342.5 394.8 342.5C395.4 342.5 395 400.7 396 420C396.2 423.8 399.1 435 399.8 435C400.4 435 400.8 417.6 401 420C402 430.7 404.1 487.8 404.8 487.5C405.4 487.2 405.1 426.5 406 417.5C406.3 414.6 409.4 434.3 409.8 440C412.8 489.3 417.9 639.7 419.4 637.3C421 634.7 421.5 474.3 422.3 420C422.8 388.5 424.3 294.3 424.8 294C425.2 293.7 424.5 388.6 426 417.5C426.1 418.8 430.9 413.8 431 415C432.7 429.4 432.9 480.6 433.5 480C434.1 479.4 435.2 427.5 436 410C437 387.8 439.9 320.3 440.5 321.2C441.1 322.2 437.9 396 441 417.5C441.4 420.6 453.5 416.9 454.8 419.5C457.8 425.7 457.2 444.4 458.5 452.5C458.6 453.2 460.1 455.5 460.2 455C461.1 452.4 462 443.8 462.5 440C463.2 435 464.5 417.4 465 420C466.6 428.3 469.9 483.8 471 483.8C472.1 483.8 472.4 434.1 473.5 420C473.6 419.1 475.1 424 475.5 423.8C476 423.5 476.8 419.5 477 418C478.8 401 481.8 367 483.5 350C484.9 336 489.2 287.7 489.8 294C491.1 310.2 490.4 420 491 440C491.2 445.8 491.9 407.8 493 397.5C493.1 396.8 495.4 395.7 495.5 396.2C496.4 401.3 496.5 414.1 497 420C497.7 427.8 500 451.7 500.5 451.2C501.1 450.8 500.3 424.5 501.5 416.2C501.7 414.9 505.4 412.1 506 412.5C506.8 413 506.9 418.1 507 420C508 438.4 510 493.9 510.5 493.8C511 493.6 510.4 430.8 511 418.8C511.1 416.1 512 431.2 513.5 435C515.5 440 523.6 455.4 524.8 453.8C526.7 451 525.4 426.5 526 417.5C527 402.5 530.2 357.2 531 357.5C531.8 357.8 531.7 404.4 532.2 420C532.9 437.5 535.3 490 536 490C536.7 490 536.9 419.7 537.5 420C538.1 420.3 540.3 497.7 541 492.5C542.3 483 544.4 374.4 545.5 361.2C546 355.6 546.5 403.5 547.2 417.5C548.1 433.1 550.7 464.4 552 480C552.9 490 555.1 510 556 520C557.2 532.5 559.4 571.9 560.5 570C561.9 567.4 565.5 519 566 502C568.1 436.5 570.1 252.2 571 240C571.6 231.7 571.6 375 572.2 420C572.5 435.6 573.8 477.6 574.8 482.5C575.2 485.1 577.3 449.2 578 450C578.9 451 580.3 493.8 581 490C582.6 481.3 585.7 422.5 587.2 400C588.5 382.5 590.6 347.5 592.2 330C592.7 325 595.3 306.5 595.5 310C596.6 328.4 596.4 390.6 597.2 417.5C597.5 424.1 599.5 446.9 599.8 443.8C600.5 435 601 373.1 601.5 370C601.9 367.8 602.8 409.4 603.5 422.5C603.9 430.6 605.5 455.3 606 455C606.6 454.7 607.3 421.7 608 420C608.5 418.9 610.7 446.1 611 443.8C611.7 438.6 611.1 403.1 612.2 390C612.4 388.7 615.5 387.4 616 386.2C620.1 377.1 629.5 345.7 631 348.8C633.7 354.1 632.6 426.8 633 420C633.9 404.6 635.5 260 636 260C636.5 260 636.1 386.9 637.2 420C637.4 423.2 640.5 404.5 641 405C641.7 405.7 641.7 424.3 642.2 425C642.7 425.5 644.2 410.8 644.8 410C645.1 409.5 645.5 419.6 646 420C646.4 420.3 648.1 412 648.5 412.5C649.1 413.3 649.8 426.6 650 425C650.6 419.8 651.5 383.9 651.8 385C652.1 386.4 651.7 429 652.2 435C652.4 437.1 652.8 421 654.8 417.5C656.2 414.8 664.4 409.1 666 410C667.8 411 667.2 423.3 668.5 425C669.1 425.8 672.2 421.2 673.5 420C674.1 419.4 675.9 418.4 676 417.5C677.8 403.4 680.3 357.6 681 360C681.9 363.3 681.8 439.2 682.5 440C683.1 440.7 685.2 367.6 686 366.2C686.7 365.1 687.2 414.2 688.5 430C688.8 433.2 691.3 439.4 692.2 442.5C694.4 449.4 700.3 473.1 701 470C702.8 462.5 701.4 417.5 702.2 400C702.6 391.8 705.5 365.8 706 367.5C706.8 370.1 706.1 406.6 707.2 417.5C707.4 418.5 710.7 414.3 711 415C712 417.4 712.1 433.1 712.2 430C713.6 396.9 716.3 271.2 717 270C717.7 268.9 717.3 384 718 421C718 421.5 719.6 419.6 719.8 420C720.5 421.9 721.6 431.1 721.8 430C722.2 427.3 721.4 409 722.2 405C722.5 404 725 408.8 726 410C728.5 413.1 734.8 424.2 736 422.5C738.6 418.9 740.5 389.4 741.5 388.8C742.3 388.2 742 410.4 743 417.5C743.5 421 746.4 431.7 747.2 431.2C748.4 430.7 749.8 416.5 751 413.8C751.3 413.1 752.9 416.5 753.5 417.5C754.2 418.7 755.4 423 756 422.5C757.6 421.2 761.2 413.3 762.2 410C764.7 402.1 768.7 376.6 769.8 377.5C771 378.5 770.6 415.4 771.5 417.5C772.1 418.9 775.3 391.2 776 391.2C776.7 391.2 776.6 418.8 777 417.5C777.6 415.6 778.9 388.4 779.8 378.8C780.2 373.1 782 353.6 782.2 356.2C782.9 363.3 782.8 414.7 783.5 417.5C784 419.4 786.2 374.9 786.8 375C787.3 375.1 787.6 407.3 788 418C788.8 439.8 790.8 505.1 791.5 505C792.2 504.9 792.4 439.2 793.5 417.5C793.6 416.1 795.3 413.7 796 412.5C800 405 810.2 381.6 812.2 382.5C814.5 383.5 812.9 410.6 813.5 420C813.8 425 815.6 440 816 440C816.4 440 816.7 419.7 817 420C817.3 420.3 818.1 442.5 818.5 442.5C818.9 442.5 819.6 419.2 820 420C820.5 421.1 821.6 450 822 450C822.4 450 823.1 420 823.5 420C823.9 420 824.6 442.6 825.5 450C825.6 450.7 827.2 453.2 827.2 452.5C828.2 445 828.1 426.1 829.8 417.5C831.8 407 840.5 375.9 842.2 376.2C844 376.6 842.6 410.3 843.5 420C843.6 420.7 845.8 417.5 846 418C846.7 419.4 846.6 426.9 847.2 427.5C847.6 427.9 849.5 421.5 850 422C851 423 853.1 430.7 853.5 433.8C854.6 443.3 855.5 474.2 856 472.5C856.7 470.1 857.3 431.2 858 417.5C858.8 401.6 861.6 353.8 862.2 353.8C862.9 353.8 862.5 419.3 863.5 417.5C864.7 415.2 868.9 357.5 871 337.5C872.3 325 876.5 281.9 877 287.5C878.4 301.9 877.2 385.9 878.5 417.5C878.5 418.4 881.9 416.8 882.2 417.5C883.4 419.9 884 429.9 884.5 430C885 430.1 885.7 416.8 886 418C886.7 420.6 887.7 438.3 888.5 445C889.3 451.3 891.8 472.2 892.2 470C893.1 465.4 892.4 430.4 893.5 417.5C893.7 415.4 896.6 409.9 897.2 410C897.9 410.1 897.9 418.5 899 418C901.7 416.7 910.1 402.2 912.2 402.5C914.1 402.7 913.9 415.9 914.8 420C914.8 420.3 915.8 420.2 916 420C917.7 417.7 921.3 409.5 922.2 410C923.5 410.7 924 421.3 924.8 425C925.8 430 928.4 440 929.8 445C930.3 447.2 932.1 455.1 932.2 453.8C932.9 448.3 931.9 426.4 933 417.5C933.4 414.2 937.5 408.3 938.5 405C941.1 396.7 946.2 369.9 947.2 371.2C948.7 373 947.6 411.6 948.5 417.5C948.8 419.5 951.6 402.4 952.2 402.5C952.9 402.6 953.1 418.1 953.5 418C953.9 417.8 955.1 401.2 955.5 401.2C955.9 401.2 955.9 414 957 418C957.6 420.3 961.4 426.3 962.2 426.2C963 426.2 961.9 418.3 963.5 417.5C967.2 415.8 981.2 413.2 983.5 416.2C987.4 421.4 987.7 449.8 988.5 450C989.3 450.2 989.6 426 990 418C990.8 400.7 992.4 348.8 993 348.8C993.6 348.7 993.9 406.5 994.8 417.5C994.9 419.9 996.7 402.4 997.2 402.5C997.8 402.6 998 414.5 999 418C999.2 418.9 1001.8 419.2 1002.2 420C1003.9 422.8 1005.6 429.6 1007.2 432.5C1009.3 436.2 1016.1 447.6 1017.2 446.2C1019.2 443.9 1018.7 424.6 1019.8 417.5C1020.2 414.3 1022.8 404.9 1023.5 405C1024.2 405.1 1025.3 419.9 1025.5 418C1026.4 411.1 1027.4 370 1028 370C1028.6 370 1029.5 422.1 1030 418C1030.9 409.6 1032.9 320.1 1033.5 320C1034.1 319.9 1034.1 393.4 1034.8 417.5C1034.8 417.8 1036 417.8 1036 417.5C1036.9 410.3 1038 387.4 1038.5 387.5C1039 387.6 1039.1 413 1040 418C1040.2 419.1 1042.5 413.6 1043 412C1045.8 402.2 1051.6 371.8 1053 372.5C1054.5 373.2 1054 406.3 1054.8 417.5C1055 421.9 1056.6 434.9 1057.2 435C1057.8 435.1 1058.7 422.2 1059.5 418C1060.3 413.5 1062.7 400 1063.5 400C1064.3 400 1065.2 416.8 1066 418C1066.5 418.7 1067.9 407.5 1068.5 407.5C1069.1 407.5 1070.6 415.3 1071 418C1071.9 424.4 1073 443.8 1073.5 443.8C1074 443.8 1073.5 422.1 1075 418C1075.4 416.8 1079.6 421.3 1081 422.5C1083 424.3 1087.3 430.5 1088.5 430C1089.8 429.4 1090.7 421 1091 418C1092.1 405.4 1093.4 367.6 1094 367.5C1094.6 367.4 1095.2 405 1096 417.5C1096.4 423.5 1098.4 441.2 1099 441.2C1099.6 441.3 1099.7 421.1 1100.5 418C1100.7 417 1102.3 425 1103 425C1103.7 425 1105.5 417.4 1106 418C1106.9 419.2 1108 432.6 1108.5 432.5C1109 432.4 1107.9 420.3 1109.8 417.5C1111.7 414.6 1121.2 409.6 1123.5 410C1125 410.2 1123.6 418.6 1125 420C1126.1 421.1 1132.8 418.4 1133.5 420C1135.9 425.9 1136.6 450 1137.2 450C1137.9 450 1137.9 418.3 1138.5 420C1139.5 422.7 1142.6 467.5 1143.5 467.5C1144.4 467.5 1144.5 431.7 1146 420C1147 412.4 1151.5 397.5 1153.5 390C1154 388.1 1155.1 384.2 1156 382.5C1156.4 381.7 1158.4 379.2 1158.5 380C1159.4 388.1 1159.2 408.6 1160 418C1160.4 422.6 1162.8 436.2 1163.5 436.2C1164.2 436.2 1164.9 422.5 1165.5 418C1166.1 413.5 1167.9 400 1168.5 400C1169.1 400 1169.6 420.1 1170 418C1171 412 1173.3 367.5 1174 367.5C1174.7 367.5 1174.6 405.4 1175.5 418C1175.8 421.7 1177.9 432.5 1178.5 432.5C1179.1 432.5 1179 421.5 1180 418C1182.8 408.4 1191.6 380 1193.5 380C1195.3 380 1194.3 414.6 1195 418C1195.3 419.6 1196.7 404.5 1197.5 400C1197.9 397.8 1199.5 390.1 1199.8 391.2C1200.4 394.6 1200.7 420.6 1201 418C1201.7 411.9 1203.5 354.4 1204 356.2C1204.6 358.6 1204.9 415.3 1205.5 435C1206 450 1208 496.9 1208.5 495C1209.1 492.5 1208 435.1 1209.8 417.5C1209.9 416.1 1215 417.6 1216 418.8C1219.7 423.2 1226.7 440.1 1228.5 440C1230.2 439.9 1229.6 415.1 1230 418C1231.2 427.6 1234 490 1234.8 490C1235.5 490 1235.3 436 1236 418C1236.3 410.4 1237.9 387.5 1238.5 387.5C1239.1 387.5 1240.4 410.4 1241 418C1241.7 426.6 1243 452.5 1243.5 452.5C1244 452.5 1244.6 426.6 1245 418C1246.1 394.7 1248.9 324.8 1249.8 325C1250.7 325.3 1251.1 396.3 1252.2 420C1252.6 427.5 1255.3 442.5 1256 450C1258.4 475.5 1263.4 555.5 1264.5 552C1265.9 547.4 1265 451.1 1266 417.5C1266.3 409 1269 383.4 1269.8 383.8C1270.6 384.1 1271.2 411 1272.2 420C1272.5 422 1274.3 427.7 1274.8 427.5C1275.3 427.2 1275.7 420.4 1276 418C1276.9 411 1279.1 390 1279.8 390C1280.4 390 1280.7 411 1281 418C1281.9 439.7 1284.2 505.1 1284.8 505C1285.3 504.9 1284.3 439.1 1285.5 417.5C1285.6 415.3 1289.3 412.1 1290 410C1294.3 396.9 1303.5 356.1 1305.5 357C1307.7 358 1305.6 406.7 1306.5 417.5C1306.7 419.4 1309.3 406.8 1309.8 407.5C1310.5 408.7 1310.3 420.7 1311 425C1311.6 428.8 1314.1 440.7 1314.8 440C1315.6 439 1315.1 423.1 1317 418C1319.8 410.6 1331.2 389.7 1333.5 390C1335.7 390.2 1333.8 412.7 1335 420C1335.4 422.4 1339 429 1339.8 428.8C1340.6 428.5 1341.3 420.7 1341.5 418C1342.5 405.1 1344.1 366.2 1344.8 366.2C1345.4 366.2 1345.6 414.9 1346.5 418C1347 419.9 1349.8 386.2 1350.5 386.2C1351.2 386.2 1351.2 414.4 1352 418C1352.3 419.4 1354.4 406 1355 406C1355.6 406 1355.1 415.5 1356.5 418C1358.8 422.1 1367.7 432.5 1369.8 432.5C1371.3 432.5 1370.6 421.6 1371 418C1371.8 410.7 1374.1 388.8 1374.8 388.8C1375.4 388.8 1375 410.9 1376 418C1376.3 419.9 1379.1 425.9 1379.8 425C1381.3 422.7 1383.8 406.1 1384.8 405C1385.4 404.3 1385.6 414.8 1386 418C1386.9 425.1 1389.1 446.2 1389.8 446.2C1390.4 446.2 1390.2 420.2 1391 418C1391.4 416.8 1393.7 428.9 1394.8 432.5C1394.9 433.2 1395.8 434.3 1396 435C1398.5 445.6 1404.4 479.3 1405.5 477.5C1407 475 1405.7 426.5 1406.5 417.5C1406.7 415.2 1409.2 434.3 1409.8 432.5C1411.3 427.7 1413.8 393.5 1414.8 391.2C1415.4 389.8 1415.6 411.3 1416 418C1417.2 439.8 1420.2 505 1421 505C1421.7 505 1421 439.7 1422 418C1422.2 414.3 1424.9 403.8 1425.5 403.8C1426.1 403.8 1426.5 420.6 1427 418C1430.3 399.7 1438.7 320.1 1440.5 320C1442.3 319.9 1440.2 393.4 1441.5 417.5C1441.6 419.7 1445.8 426.9 1446 425C1448.1 403.7 1449.8 325.9 1450.5 325C1451.2 324.2 1450.5 408.3 1451.5 418C1451.9 422 1455.2 380 1456 380C1456.7 380 1456.9 417.3 1457.5 418C1458 418.6 1459.9 385 1460.5 385C1461.1 385 1460.5 419.3 1462 418C1464.2 416.2 1473.6 372.5 1475.5 372.5C1477.3 372.5 1475.9 406.6 1476.5 418C1477.3 433.5 1480.3 480 1481 480C1481.7 480 1481.3 433.5 1482 418C1482.4 408.5 1484.9 380 1485.5 380C1486.1 380 1485.8 408.5 1486.5 418C1487.1 426 1490.2 450 1491 450C1491.7 450 1492.3 412.6 1492.5 418C1493.4 446.2 1494.7 584.4 1495.3 584.4C1495.9 584.4 1496.1 458.4 1497 418C1497 417.3 1498.8 420.6 1499 420C1502.3 409.2 1509.3 372.8 1511 372.5C1512.6 372.3 1511.4 406.6 1512 418C1512.6 429.1 1515.3 462.5 1516 462.5C1516.7 462.5 1516.9 418 1517.5 418C1518.1 418 1519.9 462.5 1520.5 462.5C1521.1 462.5 1521.4 416.9 1522 418C1522.7 419.4 1524.9 472.5 1525.5 472.5C1526.1 472.5 1526.2 420.6 1527 418C1527.6 416.2 1530.3 455 1531 455C1531.7 455 1531.4 427.2 1532.5 418C1535.1 395.6 1543.7 328.8 1545.5 328.8C1547.2 328.8 1545.6 395.7 1546.5 418C1547 429.8 1550.3 465 1551 465C1551.7 465 1551.1 423.5 1552 418C1552.3 416 1555.4 435 1556 435C1556.6 435 1556.7 422.2 1557 418C1558 404.4 1560.4 363.8 1561 363.8C1561.6 363.8 1561.1 411.6 1562 418C1562.3 420.3 1565.4 398.8 1566 398.8C1566.6 398.8 1566.1 420.5 1567 418C1569.9 409.6 1579.1 355 1581 355C1582.9 355 1581.1 402.3 1582 418C1582.3 423.6 1585.2 434.5 1586 440C1587.3 449 1590 478.4 1590.5 476.2C1591.3 472.9 1590.7 421.5 1591.5 418C1592 415.9 1595.3 453.8 1596 453.8C1596.7 453.8 1596.3 426.9 1597 418C1597.5 411.6 1600.4 392.5 1601 392.5C1601.6 392.5 1600.9 411.7 1602 418C1604.7 433.6 1613.9 464.3 1616 480C1617.5 491.1 1616.3 529.6 1616.5 525C1616.9 514.1 1617.8 444.7 1618.5 418C1618.8 405.1 1620.2 361.8 1620.5 366.2C1621.1 375.4 1621.6 472.7 1622.2 472.5C1622.9 472.3 1624.9 364.7 1625.5 365C1626.1 365.3 1626.5 474.4 1627.2 475C1627.9 475.6 1629.9 384.6 1631 370C1631.3 365.8 1632.5 392.5 1633 400C1633.7 410.6 1635.3 443.2 1636 442.5C1636.7 441.7 1635.6 414.5 1636.5 396.2C1636.6 395 1638 394.9 1638.5 393.8C1643.8 379.9 1649.4 350.6 1651 358.8C1656.4 386.1 1652.5 454.3 1656 482.5C1657 490.3 1660.5 442.8 1662.2 448.8C1666.5 463.8 1666.1 502 1671 535C1671.2 536.5 1674.6 536.4 1675 535C1678.6 522.4 1679.3 514.1 1681 500C1685.9 459.1 1688 391.2 1691.5 397.5C1696.2 406.2 1697.6 537 1701.5 537.5C1705.4 538 1705.7 454.8 1711 400C1713.7 372.8 1719 326.1 1721.5 332.5C1725.5 342.6 1725.1 440.5 1727.2 441.2C1729.4 442 1729 336.5 1732.2 336.2C1735.5 336 1738.7 398.5 1743.5 440C1747.7 476 1749.7 494.2 1754.8 530C1755.1 532.2 1756.9 537.1 1757 535C1760 439.1 1758 295.2 1762.5 285C1766.1 276.7 1768.6 468.5 1777.2 488.8C1782.5 501 1790.8 380.5 1797.2 366.2C1800.8 358.5 1799.4 422.4 1802.2 433.8C1803.4 438.4 1805.3 399.6 1807.2 406.2C1815.3 433.1 1822.7 522.2 1827.2 517.5C1832.7 511.7 1829.5 394.1 1832.2 380C1833.8 371.6 1835.3 466.7 1838 461.2C1841.8 453.7 1842.3 350.4 1848.5 347.5C1854 344.9 1860.1 428 1867.2 447.5C1869.7 454.2 1869.4 424.1 1872.5 413C1872.9 411.5 1875 414.5 1876 416C1878 418.9 1877.9 421.3 1880 424C1881.1 425.3 1882.3 425.6 1884 426C1885.9 426.4 1887.1 426.4 1889 426C1892.8 425.2 1897.2 426.3 1898.3 423C1902.8 409.5 1901.4 381.1 1903 384C1905.3 388.3 1906 418.2 1908 441" fill="none" stroke="#ffab6b" stroke-width="2" stroke-linejoin="round"/>
<defs><mask id="wm" maskUnits="userSpaceOnUse" x="660" y="430" width="90" height="90">
<rect x="660" y="430" width="90" height="90" fill="#000"/>
<g transform="translate(666,438)">
<rect x="0" y="0" width="76" height="76" rx="13" fill="#fff"/>
<g stroke="#000" stroke-width="4" fill="none">
<circle cx="38" cy="38" r="21"/>
<circle cx="38" cy="38" r="12"/>
<line x1="13" y1="12.5" x2="63" y2="63"/>
<line x1="63" y1="12.5" x2="13" y2="63"/>
</g>
<g fill="#000"><circle cx="13" cy="12.5" r="6"/><circle cx="62.5" cy="12.5" r="6"/><circle cx="13" cy="63" r="6"/><circle cx="62.5" cy="63" r="6"/></g>
</g></mask></defs>
<rect x="660" y="430" width="90" height="90" fill="#000" fill-opacity="0.333" mask="url(#wm)"/>
<g opacity="0.333"><text x="761.5" y="500" font-size="62.8" fill="#000" stroke="#000" stroke-width="1.0" textLength="572.5" lengthAdjust="spacingAndGlyphs">BitcoinMiningStock.io</text></g>
<path d="M89 144C91.17 176 93.33 201.13 95.5 240C97 266.91 98.5 314.17 100 335C101 348.89 102 342.92 103 355C103.67 363.06 104.33 367.5 105 390C106.17 429.38 107.33 565 108.5 565C110.33 565 112.17 550.25 114 528C117.33 487.54 120.67 352.5 124 352.5C128.67 352.5 133.33 506 138 506C139.83 506 141.67 360.81 143.5 320C145.17 282.9 146.83 266.5 148.5 266.5C150.33 266.5 152.17 406 154 406C155.67 406 157.33 334 159 334C161.83 334 164.67 361.06 167.5 380C171.17 404.5 174.83 467.5 178.5 467.5C180.33 467.5 182.17 381.5 184 381.5C185.5 381.5 187 410 188.5 410C190.33 410 192.17 360 194 360C196.43 360 198.87 487.57 201.3 560C204.03 641.36 206.77 823.5 209.5 823.5C211 823.5 212.5 441.24 214 415C215.92 381.47 217.83 390.05 219.75 380C221.17 372.57 222.58 282.5 224 282.5C225.08 282.5 226.17 401.8 227.25 420C228.08 434 228.92 434 229.75 434C233.92 434 238.08 420.94 242.25 417.5C244.75 415.43 247.25 415 249.75 415C251.17 415 252.58 457 254 457C255.5 457 257 420.98 258.5 410C260.17 397.8 261.83 392.89 263.5 389C264.75 386.09 266 386.71 267.25 386C271 383.86 274.75 381.25 278.5 381.25C280.33 381.25 282.17 540 284 540C285.67 540 287.33 419.62 289 387.5C290.92 350.56 292.83 341.25 294.75 341.25C296.42 341.25 298.08 398.45 299.75 406.25C301 412.1 302.25 410.29 303.5 412.5C308.67 421.63 313.83 472.5 319 472.5C321 472.5 323 424 325 424C326.6 424 328.2 424 329.8 431.7C330.77 436.35 331.73 477.42 332.7 507.5C333.4 529.28 334.1 583.3 334.8 583.3C335.77 583.3 336.73 583.3 337.7 583.3C341.6 583.3 345.5 565.8 349.4 565.8C351.13 565.8 352.87 657.7 354.6 657.7C355.77 657.7 356.93 534.59 358.1 492.9C359.23 452.4 360.37 410 361.5 410C362.67 410 363.83 414 365 414C366.67 414 368.33 271 370 271C372.57 271 375.13 372.96 377.7 420C380.13 464.59 382.57 546.3 385 546.3C386.73 546.3 388.47 509.04 390.2 455C391.8 405.12 393.4 240 395 240C396.8 240 398.6 568.75 400.4 568.75C401.93 568.75 403.47 334 405 334C406.58 334 408.17 386.43 409.75 420C413.25 494.22 416.75 675.2 420.25 675.2C422.17 675.2 424.08 350 426 350C427.67 350 429.33 364.24 431 400C432.47 431.47 433.93 544.8 435.4 544.8C437.27 544.8 439.13 266.5 441 266.5C445.67 266.5 450.33 294.15 455 387.5C456.83 424.17 458.67 560 460.5 560C462.33 560 464.17 291.5 466 291.5C467.47 291.5 468.93 427 470.4 449C472.07 474 473.73 474 475.4 474C480.43 474 485.47 134 490.5 134C492.27 134 494.03 400.63 495.8 478.3C497.37 547.18 498.93 586.25 500.5 586.25C502.33 586.25 504.17 466.7 506 466.7C507.57 466.7 509.13 571.7 510.7 571.7C513.8 571.7 516.9 540.28 520 530.8C521.73 525.5 523.47 530.26 525.2 504.6C527.13 475.98 529.07 269 531 269C533.17 269 535.33 269 537.5 310C538.67 332.08 539.83 640 541 640C542.5 640 544 510.81 545.5 485C547 459.19 548.5 465.91 550 458C553.33 440.41 556.67 394 560 394C561.92 394 563.83 588.75 565.75 588.75C567.5 588.75 569.25 94 571 94C572.75 94 574.5 593.75 576.25 593.75C577.5 593.75 578.75 307.5 580 307.5C582.5 307.5 585 328.54 587.5 340C590 351.46 592.5 341.68 595 380C597.08 411.94 599.17 548.75 601.25 548.75C603.33 548.75 605.42 421.88 607.5 400C609.17 382.5 610.83 382.5 612.5 382.5C618.67 382.5 624.83 466 631 466C632.67 466 634.33 116 636 116C637.33 116 638.67 350 640 350C642 350 644 345 646 345C647.33 345 648.67 352.71 650 360C655.33 389.17 660.67 475 666 475C667.92 475 669.83 437.5 671.75 437.5C673.25 437.5 674.75 486.25 676.25 486.25C678.17 486.25 680.08 256 682 256C684.67 256 687.33 397.63 690 440C693.75 499.58 697.5 538.75 701.25 538.75C702.83 538.75 704.42 380 706 380C707.67 380 709.33 405 711 405C713 405 715 226 717 226C718.33 226 719.67 335 721 335C723.17 335 725.33 332.57 727.5 330C730.83 326.05 734.17 314 737.5 314C739.17 314 740.83 314 742.5 315C745.67 316.9 748.83 470.5 752 470.5C753.83 470.5 755.67 249 757.5 249C762 249 766.5 345.12 771 380C774.33 405.84 777.67 438 781 438C783.17 438 785.33 382.5 787.5 382.5C789.17 382.5 790.83 501 792.5 501C799 501 805.5 296 812 296C813.67 296 815.33 571 817 571C818.33 571 819.67 470 821 470C823.17 470 825.33 482 827.5 482C830 482 832.5 382.83 835 350C837.5 317.17 840 285 842.5 285C844.17 285 845.83 304 847.5 304C849.17 304 850.83 251 852.5 251C854.17 251 855.83 536 857.5 536C859.33 536 861.17 236 863 236C865.33 236 867.67 253.33 870 275C871.67 290.48 873.33 320 875 340C878.33 380 881.67 426.67 885 450C886.67 461.67 888.33 456.11 890 465C892.5 478.33 895 522.5 897.5 522.5C902.5 522.5 907.5 327.5 912.5 327.5C914.33 327.5 916.17 537 918 537C919.67 537 921.33 431 923 431C926.17 431 929.33 441.69 932.5 446C933.67 447.59 934.83 447.76 936 450C939.83 457.36 943.67 481 947.5 481C949.33 481 951.17 254 953 254C954.5 254 956 405 957.5 405C959.33 405 961.17 198 963 198C964.83 198 966.67 417.5 968.5 417.5C970.67 417.5 972.83 413.95 975 400C977.67 382.83 980.33 318.5 983 318.5C984.83 318.5 986.67 400 988.5 400C990.17 400 991.83 194 993.5 194C995.33 194 997.17 331.33 999 370C1002.67 447.33 1006.33 446.6 1010 482C1012.67 507.74 1015.33 555 1018 555C1020 555 1022 448.67 1024 410C1025.67 377.78 1027.33 337.5 1029 337.5C1030.67 337.5 1032.33 357.82 1034 380C1035.42 398.85 1036.83 457 1038.25 457C1043 457 1047.75 352.5 1052.5 352.5C1054.58 352.5 1056.67 470 1058.75 470C1060.5 470 1062.25 334 1064 334C1065.67 334 1067.33 348.38 1069 360C1071 373.95 1073 400.95 1075 412.5C1079.58 438.97 1084.17 451 1088.75 451C1090.33 451 1091.92 329 1093.5 329C1095.25 329 1097 466 1098.75 466C1100.33 466 1101.92 423 1103.5 423C1105.25 423 1107 464 1108.75 464C1113.75 464 1118.75 451 1123.75 451C1125.42 451 1127.08 512.5 1128.75 512.5C1132.17 512.5 1135.58 324 1139 324C1140.75 324 1142.5 557.5 1144.25 557.5C1149.17 557.5 1154.08 278.5 1159 278.5C1160.17 278.5 1161.33 357.25 1162.5 380C1163.33 396.25 1164.17 405 1165 405C1166.67 405 1168.33 352.5 1170 352.5C1173.17 352.5 1176.33 451 1179.5 451C1183 451 1186.5 425.1 1190 410C1193 397.06 1196 367.5 1199 367.5C1200.67 367.5 1202.33 392.5 1204 392.5C1205.67 392.5 1207.33 258.5 1209 258.5C1210.83 258.5 1212.67 446 1214.5 446C1219.33 446 1224.17 277.5 1229 277.5C1230.83 277.5 1232.67 553.75 1234.5 553.75C1236.33 553.75 1238.17 366 1240 366C1241.33 366 1242.67 440 1244 440C1246 440 1248 300 1250 300C1252.5 300 1255 340.96 1257.5 360C1259.67 376.5 1261.83 407 1264 407C1266 407 1268 359 1270 359C1271.67 359 1273.33 419 1275 419C1276.67 419 1278.33 359 1280 359C1281.67 359 1283.33 367.25 1285 367.5C1291.67 368.5 1298.33 367.57 1305 375C1308.33 378.72 1311.67 526 1315 526C1316.67 526 1318.33 393.9 1320 392.5C1324.67 388.59 1329.33 391.19 1334 386C1336 383.78 1338 172.5 1340 172.5C1341.13 172.5 1342.27 240.98 1343.4 262C1344.27 278.07 1345.13 270.82 1346 290C1347.33 319.51 1348.67 424 1350 424C1351.67 424 1353.33 321 1355 321C1358.33 321 1361.67 343.5 1365 350C1366.67 353.25 1368.33 355 1370 355C1371.67 355 1373.33 340 1375 340C1376.33 340 1377.67 388.37 1379 390C1381 392.44 1383 391.95 1385 392.5C1386.67 392.96 1388.33 405 1390 405C1395 405 1400 275 1405 275C1406.67 275 1408.33 466 1410 466C1411.67 466 1413.33 330 1415 330C1416.83 330 1418.67 551 1420.5 551C1422 551 1423.5 497.92 1425 472.5C1430.17 384.94 1435.33 217.5 1440.5 217.5C1442 217.5 1443.5 416.5 1445 416.5C1446.67 416.5 1448.33 380.53 1450 370C1452.5 354.21 1455 349.34 1457.5 345C1459.17 342.11 1460.83 344.42 1462.5 337.5C1465 327.12 1467.5 280.73 1470 262C1472 247.02 1474 232.5 1476 232.5C1477.67 232.5 1479.33 283.54 1481 300C1482.33 313.17 1483.67 324.65 1485 325C1487 325.53 1489 325.06 1491 327.5C1492.67 329.54 1494.33 480 1496 480C1498.17 480 1500.33 424.4 1502.5 385C1505.17 336.51 1507.83 211 1510.5 211C1512.33 211 1514.17 290.52 1516 297.5C1517.67 303.85 1519.33 298.41 1521 320C1522.53 339.86 1524.07 615.6 1525.6 615.6C1527.48 615.6 1529.37 504.8 1531.25 473.4C1533.83 430.32 1536.42 434.28 1539 410C1541.17 389.64 1543.33 341 1545.5 341C1547.2 341 1548.9 514.44 1550.6 556C1552.4 600 1554.2 600 1556 600C1557.5 600 1559 360.81 1560.5 300C1562.5 218.92 1564.5 213.5 1566.5 213.5C1568.5 213.5 1570.5 263.08 1572.5 285C1574.67 308.74 1576.83 325.14 1579 350C1581.53 379.07 1584.07 448.4 1586.6 448.4C1587.93 448.4 1589.27 443.75 1590.6 443.75C1592.48 443.75 1594.37 490.6 1596.25 490.6C1598.33 490.6 1600.42 405.58 1602.5 380C1607.17 322.71 1611.83 284 1616.5 284C1618.2 284 1619.9 537 1621.6 537C1623.23 537 1624.87 276 1626.5 276C1628.08 276 1629.67 614 1631.25 614C1633.03 614 1634.82 465.1 1636.6 464C1641.48 461 1646.37 461 1651.25 461C1652.92 461 1654.58 583 1656.25 583C1658.03 583 1659.82 501.6 1661.6 501.6C1663.27 501.6 1664.93 679.5 1666.6 679.5C1668.57 679.5 1670.53 501.25 1672.5 472C1674.58 441.02 1676.67 443.46 1678.75 440.6C1681.37 437.01 1683.98 440.08 1686.6 428C1688.23 420.46 1689.87 355 1691.5 355C1694.83 355 1698.17 525 1701.5 525C1705.17 525 1708.83 368.17 1712.5 295C1715.5 235.14 1718.5 124 1721.5 124C1723.17 124 1724.83 382.5 1726.5 382.5C1728.17 382.5 1729.83 301.14 1731.5 300C1735.17 297.5 1738.83 297.5 1742.5 297.5C1745 297.5 1747.5 328.85 1750 360C1754 409.83 1758 559 1762 559C1763.83 559 1765.67 302.31 1767.5 297.5C1768.83 294 1770.17 294 1771.5 294C1773.5 294 1775.5 472.5 1777.5 472.5C1783.33 472.5 1789.17 367.5 1795 367.5C1797.33 367.5 1799.67 483 1802 483C1803.67 483 1805.33 407 1807 407C1808.57 407 1810.13 480.15 1811.7 516.7C1813.37 555.58 1815.03 606.08 1816.7 633.3C1818.37 660.52 1820.03 672 1821.7 680C1823.37 688 1825.03 688 1826.7 688C1827.57 688 1828.43 644.46 1829.3 600C1830.37 545.28 1831.43 380 1832.5 380C1834.17 380 1835.83 533 1837.5 533C1840.93 533 1844.37 188.5 1847.8 188.5C1851.03 188.5 1854.27 255.15 1857.5 300C1860.83 346.24 1864.17 462.5 1867.5 462.5C1869.17 462.5 1870.83 412 1872.5 412C1875.83 412 1879.17 521 1882.5 521C1887.5 521 1892.5 443 1897.5 443C1899.17 443 1900.83 488 1902.5 488C1904.33 488 1906.17 440.67 1908 417" fill="none" stroke="#9b5de5" stroke-width="2" stroke-linejoin="round"/>
<rect x="880" y="926" width="24" height="24" rx="3" fill="#9b5de5"/>
<text x="913.5" y="944" font-size="18" font-weight="bold" fill="#000">Index</text>
<rect x="970" y="926" width="24" height="24" rx="3" fill="#ffab6b"/>
<text x="1003.5" y="944" font-size="18" font-weight="bold" fill="#000">BTC</text>
</svg>
</body></html>
